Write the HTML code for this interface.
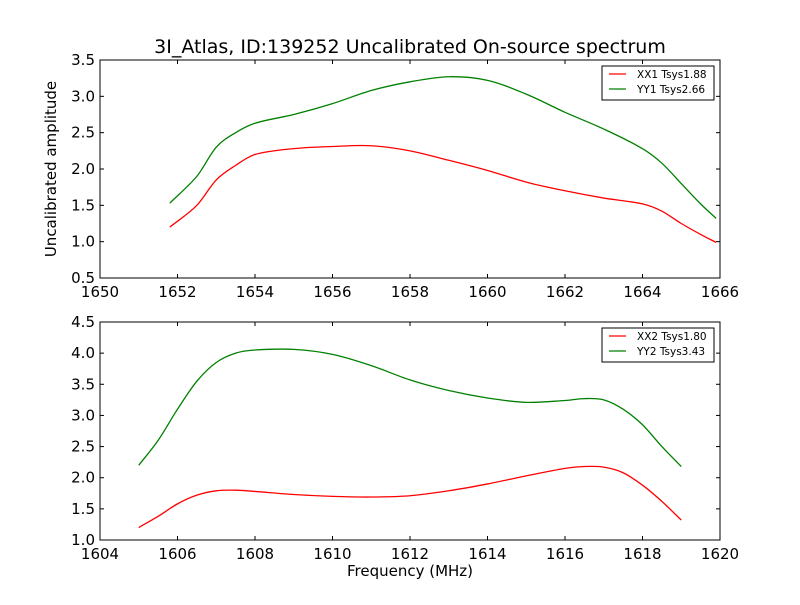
<!DOCTYPE html>
<html><head><meta charset="utf-8"><style>
body{margin:0;background:#fff;}
svg text{font-family:"DejaVu Sans","Liberation Sans",sans-serif;}
</style></head><body>
<svg id="c" width="800" height="600" xmlns="http://www.w3.org/2000/svg">
<rect width="800" height="600" fill="#fff"/>
<text x="410" y="53" font-size="19" text-anchor="middle">3I_Atlas, ID:139252 Uncalibrated On-source spectrum</text>
<text x="56" y="169" font-size="15" text-anchor="middle" transform="rotate(-90 56 169)">Uncalibrated amplitude</text>
<text x="410" y="576" font-size="15" text-anchor="middle">Frequency (MHz)</text>
</svg>
<script>
const topX1=[1651.8,1652.5,1653,1653.5,1654,1655,1656,1657,1658,1659,1660,1661,1662,1663,1664,1664.5,1665,1665.5,1665.9];
const xx1=[1.2,1.5,1.85,2.05,2.2,2.28,2.31,2.32,2.25,2.12,1.98,1.82,1.7,1.6,1.52,1.42,1.25,1.1,0.99];
const yy1=[1.53,1.9,2.3,2.5,2.63,2.75,2.9,3.08,3.2,3.27,3.22,3.03,2.78,2.55,2.28,2.08,1.8,1.52,1.32];
const botX=[1605,1605.5,1606,1606.5,1607,1607.5,1608,1609,1610,1611,1612,1613,1614,1615,1616,1616.5,1617,1617.5,1618,1618.5,1619];
const xx2=[1.2,1.38,1.58,1.72,1.79,1.8,1.78,1.73,1.7,1.69,1.71,1.79,1.9,2.03,2.15,2.18,2.17,2.08,1.88,1.62,1.32];
const yy2=[2.2,2.6,3.1,3.55,3.85,4.0,4.05,4.06,3.98,3.8,3.57,3.4,3.28,3.21,3.24,3.27,3.25,3.1,2.85,2.5,2.18];
const topXTicks=[1650,1652,1654,1656,1658,1660,1662,1664,1666];
const topYTicks=[0.5,1.0,1.5,2.0,2.5,3.0,3.5];
const botXTicks=[1604,1606,1608,1610,1612,1614,1616,1618,1620];
const botYTicks=[1.0,1.5,2.0,2.5,3.0,3.5,4.0,4.5];
const legTop=['XX1 Tsys1.88','YY1 Tsys2.66'];
const legBot=['XX2 Tsys1.80','YY2 Tsys3.43'];
const svg=document.getElementById('c');
const NS='http://www.w3.org/2000/svg';
function mk(t,a,p){const e=document.createElementNS(NS,t);for(const k in a)e.setAttribute(k,a[k]);(p||svg).appendChild(e);return e;}
function smooth(pts){
 const n=pts.length,m=[];
 for(let i=0;i<n;i++){const a=pts[Math.max(0,i-1)],b=pts[Math.min(n-1,i+1)];m.push((b[1]-a[1])/(b[0]-a[0]));}
 let d='M'+pts[0][0]+','+pts[0][1];
 for(let i=0;i<n-1;i++){const p1=pts[i],p2=pts[i+1],dx=(p2[0]-p1[0])/3;
  d+=' C'+(p1[0]+dx)+','+(p1[1]+m[i]*dx)+' '+(p2[0]-dx)+','+(p2[1]-m[i+1]*dx)+' '+p2[0]+','+p2[1];}
 return d;}
function panel(name,top,x0,x1,y0,y1,xt,yt,xs,series,leg){
 const L=100,R=720,T=top,B=top+218;
 const sx=v=>L+(v-x0)/(x1-x0)*(R-L), sy=v=>B-(v-y0)/(y1-y0)*(B-T);
 const g=mk('g',{});
 
 
 series.forEach(s=>{const p=mk('path',{d:smooth(xs.map((x,i)=>[sx(x),sy(s.v[i])])),fill:'none',stroke:s.c,'stroke-width':1.3},g);
  
  });
 const fr=mk('rect',{x:L,y:T,width:R-L,height:B-T,fill:'none',stroke:'#000','stroke-width':1},g);
 
 
 xt.forEach(v=>{const x=sx(v);mk('line',{x1:x,x2:x,y1:B,y2:B-4,stroke:'#000'},g);mk('line',{x1:x,x2:x,y1:T,y2:T+4,stroke:'#000'},g);
  const t=mk('text',{x:x,y:B+19,'font-size':15,'text-anchor':'middle'},g);t.textContent=v;
  
  });
 yt.forEach(v=>{const y=sy(v);mk('line',{x1:L,x2:L+4,y1:y,y2:y,stroke:'#000'},g);mk('line',{x1:R,x2:R-4,y1:y,y2:y,stroke:'#000'},g);
  const t=mk('text',{x:L-5,y:y+5,'font-size':15,'text-anchor':'end'},g);t.textContent=v.toFixed(1);
  
  });
 const lg=mk('g',{},g);
 
 
 mk('rect',{x:602,y:T+6,width:112,height:34,fill:'#fff',stroke:'#000'},lg);
 leg.forEach((s,i)=>{const y=T+14+i*15;mk('line',{x1:609,x2:626,y1:y,y2:y,stroke:series[i].c,'stroke-width':1.3},lg);
  const t=mk('text',{x:637,y:y+4,'font-size':10.5},lg);t.textContent=s;
  
  });
}
panel('top-panel',60,1650,1666,0.5,3.5,topXTicks,topYTicks,topX1,[{v:xx1,c:'#ff0000',n:'xx1-line'},{v:yy1,c:'#008000',n:'yy1-line'}],legTop);
panel('bottom-panel',322,1604,1620,1.0,4.5,botXTicks,botYTicks,botX,[{v:xx2,c:'#ff0000',n:'xx2-line'},{v:yy2,c:'#008000',n:'yy2-line'}],legBot);
</script>
</body></html>
